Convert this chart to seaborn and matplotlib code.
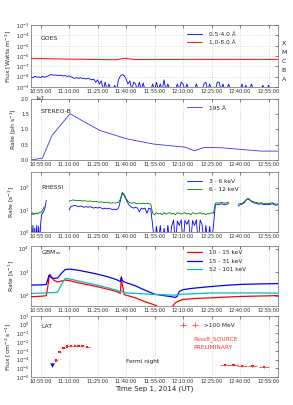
import pandas as pd
import seaborn as sns
import matplotlib
matplotlib.use("Agg")
import matplotlib.pyplot as plt
import matplotlib.dates as mdates
from matplotlib.ticker import LogLocator, NullLocator

# ---------------- data ----------------
# GOES 0.5-4.0 A, one value per minute from 10:50
goes_lo_t0 = "10:50"
goes_lo = [
    1.0e-8, 8e-9, 1.1e-8, 9e-9, 1.0e-8, 8e-9, 1.1e-8, 9e-9, 1.0e-8, 1.2e-8,
    1.5e-8, 1.6e-8, 1.4e-8, 1.5e-8, 1.3e-8, 1.4e-8, 1.3e-8, 1.2e-8, 1.3e-8, 1.1e-8,
    1.2e-8, 1.0e-8, 8e-9, 7e-9, 8e-9, 7e-9, 8e-9, 7e-9, 7e-9, 6e-9,
    7e-9, 6e-9, 5e-9, 6e-9, 3e-9, 5e-9, 2e-9, 4e-9, 5e-10, 3e-9,
    5e-10, 2e-9, 5e-10, 5e-10, 1.5e-9, 5e-10, 5e-9, 1.2e-8, 1.6e-8, 1.3e-8,
    6e-9, 2e-9, 4e-9, 5e-10, 3e-9, 2e-9, 5e-10, 3e-9, 5e-10, 2.5e-9,
    5e-10, 5e-10, 5e-10, 5e-10, 2e-9, 5e-10, 3e-9, 5e-10, 2e-9, 5e-10,
    5e-9, 5e-10, 2e-9, 5e-10, 5e-10, 5e-10, 5e-10, 2e-9, 5e-10, 3e-9,
    2e-9, 5e-10, 2e-9, 5e-10, 5e-10, 5e-10, 5e-10, 2e-9, 5e-10, 5e-10,
    5e-10, 2e-9, 3e-9, 5e-10, 2e-9, 5e-10, 5e-10, 5e-10, 3e-9, 3e-9,
    5e-10, 2e-9, 5e-10, 5e-10, 2e-9, 5e-10, 5e-10, 5e-10, 5e-10, 5e-10,
    5e-10, 2e-9, 5e-10, 1.5e-9, 5e-10, 5e-10, 2e-9, 5e-10, 5e-10, 5e-10,
    5e-10, 5e-10, 1.5e-9, 5e-10, 5e-10, 1.5e-9, 5e-10, 5e-10, 5e-10, 5e-10,
]
goes_hi_t = ["10:50", "11:00", "11:10", "11:25", "11:35", "11:37", "11:39",
             "11:41", "11:45", "11:55", "12:10", "12:30", "13:00"]
goes_hi = [6e-7, 5.6e-7, 5.1e-7, 4.7e-7, 4.4e-7, 5.2e-7, 6.0e-7,
           5.6e-7, 4.6e-7, 4.7e-7, 4.8e-7, 4.8e-7, 4.8e-7]
goes_classes = ["X", "M", "C", "B", "A"]

# STEREO-B 195 A
stereo_t = ["10:50", "10:56", "11:01", "11:10:30", "11:26", "11:40:30", "11:54:30",
            "12:11", "12:16", "12:21", "12:30", "12:51", "13:00"]
stereo = [0.0, 0.06e7, 0.8e7, 1.51e7, 0.97e7, 0.69e7, 0.52e7,
          0.42e7, 0.30e7, 0.41e7, 0.40e7, 0.29e7, 0.29e7]

# RHESSI, piece 1 (10:50, every 0.5 min)
rh_lo_a = [1.8, 0.3, 2.0, 0.3, 1.5, 0.3, 2.0, 0.3, 1.8, 0.3, 2.0, 6, 7, 8, 10, 14, 27]
rh_hi_a = [7, 6, 7.5, 6, 7, 6.5, 7.5, 6.5, 7, 8, 7.5, 8.5, 9, 12, 14]
# piece 2 (11:10 -> 12:34, every minute)
rh_lo_b = [10, 14, 15, 16, 15, 14, 15, 14, 13, 14, 13, 14, 13, 12, 13, 12, 13, 12, 11, 12,
           11, 12, 11, 10, 11, 10, 12, 25, 55, 45, 30, 20, 15, 13, 12, 13, 12, 8, 12, 11,
           12, 7, 12, 11,
           2, 0.3, 1.8, 0.3, 2, 0.3, 1.5, 0.3, 2, 0.3, 1.8,
           3.5, 0.3, 3.2, 2, 3.6, 0.3, 3.4, 2.2, 3.5, 0.3, 3.3, 2, 3.6, 0.3, 3.5, 2.2,
           0.3, 2, 0.3, 1.8, 0.3, 2,
           17, 18, 17, 19, 18, 17, 18, 19]
rh_hi_b = [25, 26, 28, 27, 26, 27, 26, 25, 26, 25, 24, 25, 24, 23, 24, 23, 22, 23, 22, 21,
           22, 21, 20, 21, 20, 21, 22, 30, 62, 50, 33, 24, 21, 20, 21, 20, 19, 20, 19, 20,
           19, 20, 19, 18,
           7, 6, 7.5, 6.5, 7, 6, 7.5, 6.5, 7, 7.5, 6.5,
           7, 6, 7.5, 7, 6.5, 7, 7.5, 6.5, 7, 6, 7.5, 7, 6.5, 7, 7.5, 6.5,
           7, 6, 7, 6.5, 7.5, 7,
           20, 21, 20, 22, 21, 20, 21, 22]
# piece 3 (12:39 -> 13:00, every minute)
rh_lo_c = [15, 17, 18, 20, 26, 32, 28, 24, 21, 20, 19, 18, 19, 18, 17, 18, 17, 18, 19, 17, 16, 17]
rh_hi_c = [18, 19, 20, 22, 28, 33, 30, 25, 23, 22, 21, 20, 21, 20, 19, 20, 19, 20, 21, 19, 18, 19]

# GBM
gbm_t = ["10:50", "10:53", "10:56", "10:58", "10:59", "10:59:30", "11:00", "11:01", "11:02",
         "11:04", "11:06", "11:08", "11:10", "11:12", "11:15", "11:20", "11:25", "11:30",
         "11:35", "11:37", "11:37:30", "11:38", "11:39", "11:40", "11:45", "11:50", "11:55",
         "12:00", "12:03", "12:06", "12:07", "12:08", "12:10", "12:15", "12:20", "12:25",
         "12:30", "12:40", "12:50", "13:00"]
gbm_lo = [90, 92, 95, 100, 300, 700, 800, 600, 450, 380, 420, 460, 440, 400, 350, 290, 240,
          190, 150, 125, 500, 300, 110, 105, 80, 55, 40, 25, 25, 50, 55, 60, 69, 74, 78, 80,
          85, 92, 96, 100]
gbm_mid = [280, 285, 290, 300, 550, 750, 650, 560, 540, 560, 900, 1300, 1350, 1300, 1200,
           1000, 820, 650, 480, 400, 630, 450, 380, 360, 260, 170, 115, 100, 92, 84, 95, 150,
           180, 205, 225, 245, 265, 300, 315, 325]
gbm_hi = [124, 126, 128, 130, 132, 132, 133, 133, 135, 140, 300, 540, 520, 480, 420, 340, 280,
          220, 170, 150, 165, 150, 135, 130, 125, 118, 112, 108, 106, 105, 108, 112, 115, 120,
          125, 130, 130, 130, 130, 128]

# LAT >100 MeV
lat_t = ["11:03", "11:05", "11:07", "11:09", "11:11", "11:13", "11:15", "11:17", "11:19:30",
         "12:32", "12:36:30", "12:41", "12:46:30", "12:52:30"]
lat_flux = [8e-5, 7.5e-4, 2.1e-3, 3.2e-3, 3.6e-3, 3.8e-3, 3.8e-3, 3.5e-3, 2.6e-3,
            2.3e-5, 2.3e-5, 1.8e-5, 1.8e-5, 1.4e-5]
lat_xerr_min = [1, 1, 1, 1, 1, 1, 1, 1, 1.3, 2.5, 2.5, 2.5, 2.5, 2.5]
lat_ul_t = ["11:01"]
lat_ul = [2.3e-5]


def at(t):
    return pd.Timestamp("2014-09-01 " + t)


def times(lst):
    return [at(t) for t in lst]


def steps(t0, step, n):
    return list(pd.date_range(at(t0), periods=n, freq=pd.Timedelta(minutes=step)))


def line(ax, t, v, color, label=None, lw=0.6):
    sns.lineplot(x=t, y=v, ax=ax, color=color, lw=lw, label=label,
                 sort=False, estimator=None, legend=False)


def setup(ax, ylabel, name, name_y):
    ax.set_xlim(at("10:50"), at("13:00"))
    ax.xaxis.set_major_locator(mdates.MinuteLocator(byminute=[10, 25, 40, 55]))
    ax.xaxis.set_major_formatter(mdates.DateFormatter("%H:%M:%S"))
    ax.set_xlabel("")
    ax.set_ylabel(ylabel, fontsize=4.4, labelpad=1.5)
    ax.tick_params(which="both", labelsize=3.6, direction="in", top=True, right=True,
                   length=2, width=0.4, pad=1.5)
    ax.tick_params(which="minor", length=1)
    ax.grid(axis="x", color="0.75", ls=":", lw=0.5)
    for s in ax.spines.values():
        s.set_color("0.4")
        s.set_linewidth(0.5)
    ax.text(0.04, name_y, name, transform=ax.transAxes, fontsize=4.4, va="center")


def legend(ax, y):
    ax.legend(loc="upper left", bbox_to_anchor=(0.62, y), frameon=False, fontsize=4.2,
              handlelength=2.6, labelspacing=0.55, borderaxespad=0, handletextpad=1.2)


sns.set_style("white")
fig = plt.figure(figsize=(2.93, 4.05), dpi=100)
L, W = 0.106, 0.843

# ---- GOES ----
ax = fig.add_axes([L, 0.785, W, 0.153])
ax.set_yscale("log")
line(ax, steps(goes_lo_t0, 1, len(goes_lo)), goes_lo, "#0000ff", "0.5-4.0 Å")
line(ax, times(goes_hi_t), goes_hi, "#ff2020", "1.0-8.0 Å", lw=0.8)
ax.set_ylim(1e-9, 1e-3)
ax.yaxis.set_major_locator(LogLocator(base=10, numticks=12))
ax.yaxis.set_minor_locator(NullLocator())
setup(ax, "Flux [Watts m$^{-2}$]", "GOES", 0.78)
ax.grid(axis="y", color="0.8", ls=":", lw=0.5)
for i, c in enumerate(goes_classes):
    ax.text(1.015, 0.71 - i * 0.146, c, transform=ax.transAxes, fontsize=4.6, va="center")
legend(ax, 0.93)

# ---- STEREO-B ----
ax = fig.add_axes([L, 0.605, W, 0.151])
line(ax, times(stereo_t), stereo, "#3333ff", "195 Å")
ax.set_ylim(0, 2e7)
ax.set_yticks([0, 0.5e7, 1e7, 1.5e7, 2e7])
ax.set_yticklabels(["0.0", "0.5", "1.0", "1.5", "2.0"])
setup(ax, "Rate [ph s$^{-1}$]", "STEREO-B", 0.8)
ax.text(0.018, 1.0, "1e7", transform=ax.transAxes, fontsize=3.3, ha="left", va="center")
legend(ax, 0.93)

# ---- RHESSI ----
ax = fig.add_axes([L, 0.427, W, 0.148])
ax.set_yscale("log")
line(ax, steps("10:50", 0.5, len(rh_lo_a)), rh_lo_a, "#0000ff", "3 - 6 keV")
line(ax, steps("10:50", 0.5, len(rh_hi_a)), rh_hi_a, "#008000", "6 - 12 keV")
line(ax, steps("11:10", 1, len(rh_lo_b)), rh_lo_b, "#0000ff")
line(ax, steps("11:10", 1, len(rh_hi_b)), rh_hi_b, "#008000")
line(ax, steps("12:39", 1, len(rh_lo_c)), rh_lo_c, "#0000ff")
line(ax, steps("12:39", 1, len(rh_hi_c)), rh_hi_c, "#008000")
ax.set_ylim(1, 500)
ax.yaxis.set_major_locator(LogLocator(base=10, numticks=6))
ax.yaxis.set_minor_locator(NullLocator())
setup(ax, "Rate [s$^{-1}$]", "RHESSI", 0.75)
legend(ax, 0.93)

# ---- GBM ----
ax = fig.add_axes([L, 0.2444, W, 0.148])
ax.set_yscale("log")
line(ax, times(gbm_t), gbm_lo, "#ff0000", "10 - 15 keV", lw=0.9)
line(ax, times(gbm_t), gbm_mid, "#0000ff", "15 - 31 keV", lw=0.9)
line(ax, times(gbm_t), gbm_hi, "#00bfbf", "52 - 101 keV", lw=0.9)
ax.set_ylim(36, 1.3e4)
ax.yaxis.set_major_locator(LogLocator(base=10, numticks=6))
ax.yaxis.set_minor_locator(NullLocator())
setup(ax, "Rate [s$^{-1}$]", "GBM$_{\\rm ss}$", 0.9)
legend(ax, 0.97)

# ---- LAT ----
ax = fig.add_axes([L, 0.069, W, 0.151])
ax.set_yscale("log")
lat_x = times(lat_t)
lat_dx = [pd.Timedelta(minutes=m) for m in lat_xerr_min]
sns.scatterplot(x=lat_x, y=lat_flux, ax=ax, color="red", s=3, marker="s",
                edgecolor="none", legend=False)
ax.errorbar(lat_x, lat_flux, xerr=lat_dx, yerr=[f * 0.15 for f in lat_flux], fmt="none",
            ecolor="#ff4040", elinewidth=0.6, label=">100 MeV")
sns.scatterplot(x=times(lat_ul_t), y=lat_ul, ax=ax, color="blue", marker="v", s=8,
                edgecolor="blue", legend=False)
ax.set_ylim(1e-6, 1e1)
ax.yaxis.set_major_locator(LogLocator(base=10, numticks=10))
ax.yaxis.set_minor_locator(NullLocator())
setup(ax, "Flux [cm$^{-2}$ s$^{-1}$]", "LAT", 0.82)
ax.legend(loc="upper left", bbox_to_anchor=(0.6, 0.93), frameon=False, fontsize=4.2,
          numpoints=2, handlelength=2.6, borderaxespad=0, handletextpad=1.2)
ax.text(0.656, 0.62, "Pass8_SOURCE", color="#ff3030", transform=ax.transAxes, fontsize=4.2,
        va="center")
ax.text(0.656, 0.49, "PRELIMINARY", color="#ff3030", transform=ax.transAxes, fontsize=4.2,
        va="center")
ax.text(0.385, 0.26, "Fermi night", transform=ax.transAxes, fontsize=4.2, va="center")
ax.set_xlabel("Time Sep 1, 2014 (UT)", fontsize=5, labelpad=1)

fig.savefig("out.png", dpi=100)
